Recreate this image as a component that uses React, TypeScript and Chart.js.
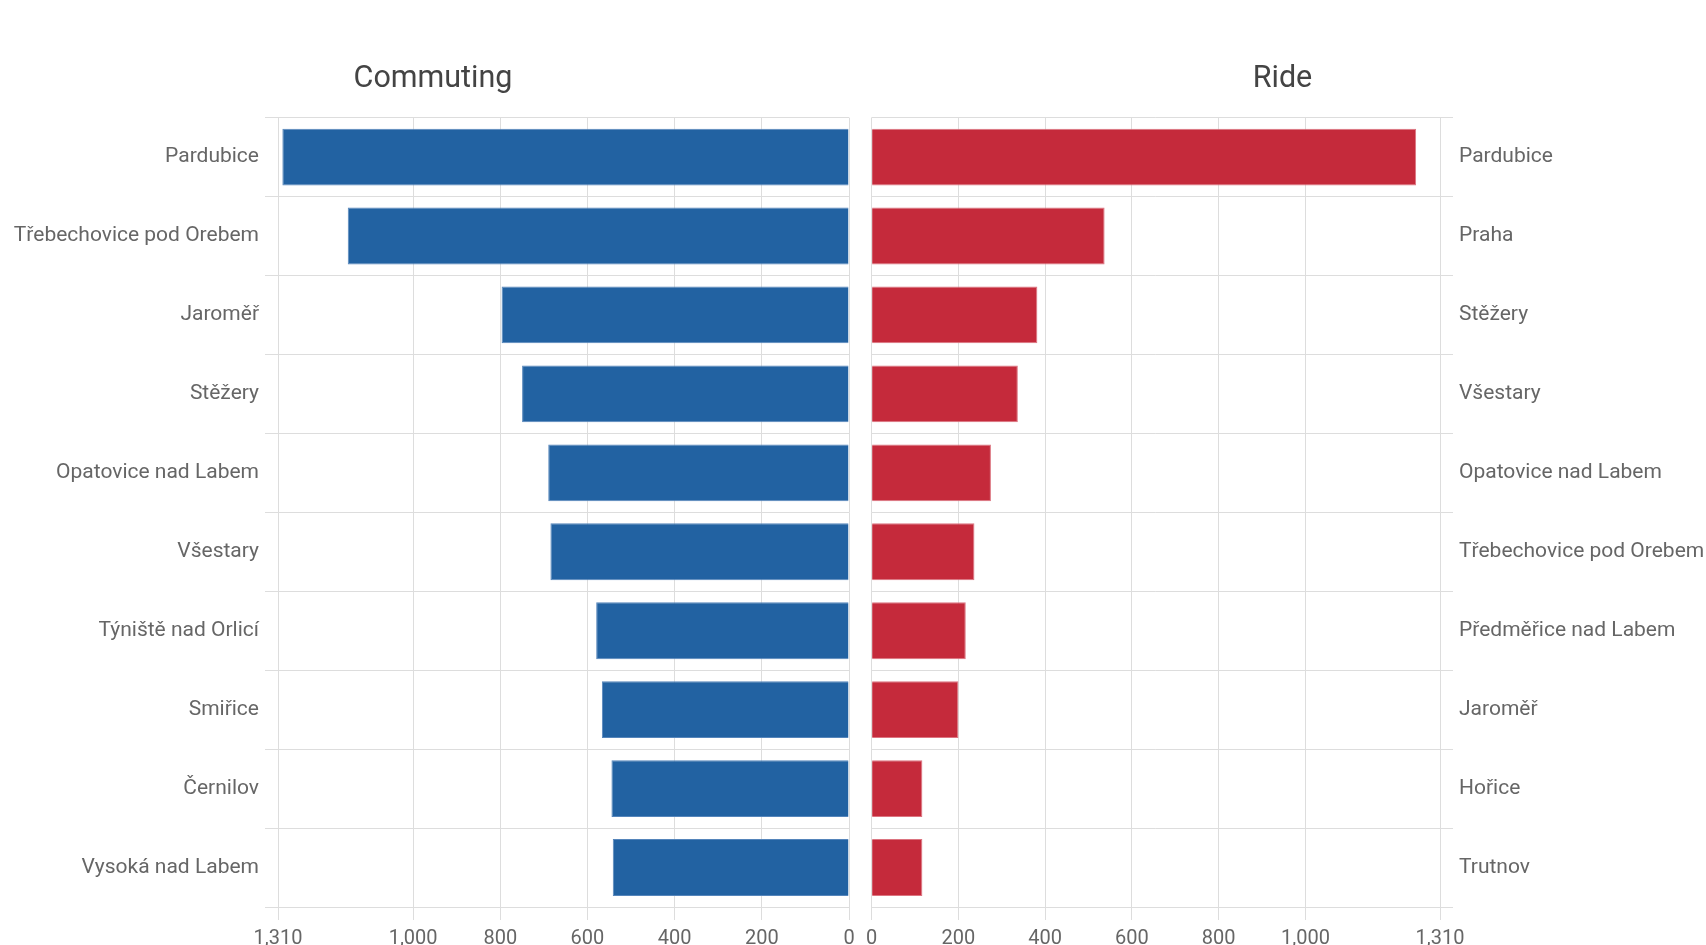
import React, { useEffect, useRef } from 'react';
import { Chart, registerables } from 'chart.js';

Chart.register(...registerables);

const commutingPlaces = [
  'Pardubice',
  'Třebechovice pod Orebem',
  'Jaroměř',
  'Stěžery',
  'Opatovice nad Labem',
  'Všestary',
  'Týniště nad Orlicí',
  'Smiřice',
  'Černilov',
  'Vysoká nad Labem',
];
const commutingValues = [1300, 1150, 797, 750, 690, 685, 580, 567, 545, 542];

const ridePlaces = [
  'Pardubice',
  'Praha',
  'Stěžery',
  'Všestary',
  'Opatovice nad Labem',
  'Třebechovice pod Orebem',
  'Předměřice nad Labem',
  'Jaroměř',
  'Hořice',
  'Trutnov',
];
const rideValues = [1255, 537, 382, 337, 275, 237, 217, 200, 117, 117];

const axisTicks = [0, 200, 400, 600, 800, 1000, 1310];
const axisMax = 1310;

const BLUE = '#2262a2';
const BLUE_EDGE = '#5585bb';
const RED = '#c52a3b';
const RED_EDGE = '#dc7480';
const GRID = '#dddddd';
const TEXT = '#666666';

function buildConfig(side: 'left' | 'right'): any {
  const isLeft = side === 'left';
  const tickFont = { family: 'Roboto', size: 20 };
  const catFont = { family: 'Roboto', size: 21 };
  const scales: any = {
    x: {
      type: 'linear',
      reverse: isLeft,
      min: 0,
      max: axisMax,
      afterBuildTicks: (s: any) => {
        s.ticks = axisTicks.map((v) => ({ value: v }));
      },
      afterFit: (s: any) => {
        s.height = 38;
      },
      ticks: {
        font: tickFont,
        color: TEXT,
        padding: 7,
        maxRotation: 0,
        autoSkip: false,
        callback: (v: any) => Number(v).toLocaleString('en-US'),
      },
      grid: { color: GRID, tickLength: 13 },
      border: { color: GRID },
    },
    y: {
      position: isLeft ? 'left' : 'right',
      afterFit: (s: any) => {
        s.width = isLeft ? 278 : 266;
      },
      ticks: { font: catFont, color: TEXT, padding: 6, autoSkip: false },
      grid: { color: GRID, tickLength: 13, offset: true },
      border: { color: GRID },
    },
  };
  if (isLeft) {
    // empty spacer axis on the right so the full-width title stays centred on the canvas
    scales.spacer = {
      type: 'category',
      position: 'right',
      afterFit: (s: any) => {
        s.width = 17;
      },
      ticks: { display: false },
      grid: { display: false },
      border: { display: false },
    };
  }
  return {
    type: 'bar',
    data: {
      labels: isLeft ? commutingPlaces : ridePlaces,
      datasets: [
        {
          data: isLeft ? commutingValues : rideValues,
          backgroundColor: isLeft ? BLUE : RED,
          borderColor: isLeft ? BLUE_EDGE : RED_EDGE,
          borderWidth: 1,
        },
      ],
    },
    options: {
      indexAxis: 'y',
      animation: false,
      responsive: true,
      maintainAspectRatio: false,
      layout: { padding: 0 },
      plugins: {
        legend: { display: false },
        tooltip: { enabled: false },
        title: {
          display: true,
          text: isLeft ? 'Commuting' : 'Ride',
          font: { family: 'Roboto', size: 30.5, weight: 'normal' },
          color: '#444444',
          padding: { top: 61, bottom: 20 },
        },
      },
      scales,
    },
  };
}

function BarPanel({ side }: { side: 'left' | 'right' }) {
  const ref = useRef<HTMLCanvasElement | null>(null);
  useEffect(() => {
    if (!ref.current) return;
    const chart = new Chart(ref.current, buildConfig(side));
    return () => chart.destroy();
  }, [side]);
  return <canvas ref={ref} />;
}

export default function App() {
  return (
    <div
      style={{
        position: 'fixed',
        top: 0,
        left: 0,
        width: 1706,
        height: 945,
        overflow: 'hidden',
        background: '#ffffff',
      }}
    >
      <div style={{ position: 'absolute', left: 0, top: 0, width: 866, height: 945 }}>
        <BarPanel side="left" />
      </div>
      <div style={{ position: 'absolute', left: 859, top: 0, width: 847, height: 945 }}>
        <BarPanel side="right" />
      </div>
    </div>
  );
}
